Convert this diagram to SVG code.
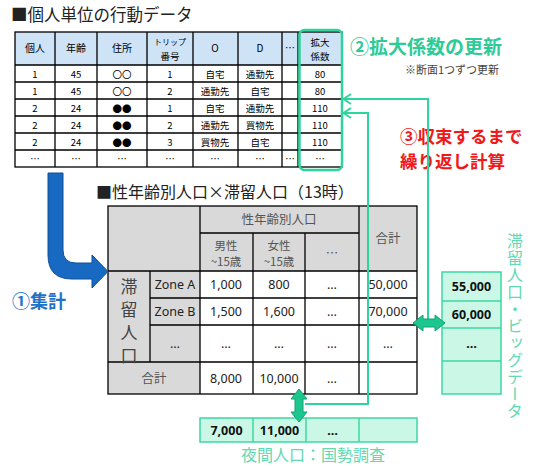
<svg xmlns="http://www.w3.org/2000/svg" width="536" height="466" viewBox="0 0 536 466">
<style>
  .t { font-family: "Noto Sans CJK JP", "Noto Sans", sans-serif; }
  .s { font-family: "Noto Sans CJK JP", sans-serif; font-size: 9.5px; fill: #000; text-anchor: middle; }
  .h { font-family: "Noto Sans CJK JP", sans-serif; font-size: 10px; fill: #000; text-anchor: middle; }
  .c { font-family: "Noto Sans", "Noto Sans CJK JP", sans-serif; font-size: 12.5px; fill: #222; text-anchor: middle; }
  .g { font-family: "Noto Sans CJK JP", "Noto Sans", sans-serif; font-size: 12.5px; fill: #555; text-anchor: middle; }
  .g2 { font-family: "Noto Sans CJK JP", "Noto Sans", sans-serif; font-size: 11.5px; fill: #555; text-anchor: middle; }
  .b { font-family: "Noto Sans", "Noto Sans CJK JP", sans-serif; font-size: 12.5px; font-weight: bold; fill: #111; text-anchor: middle; }
  .ln { stroke: #000; stroke-width: 1.3; fill: none; }
  .gl { stroke: #2fd49c; stroke-width: 2; fill: none; }
  .mint { fill: #cbf7e7; stroke: #3dd8a2; stroke-width: 1.5; }
  .dbl { fill: #1cc68e; stroke: #14a273; stroke-width: 1; }
</style>

<!-- titles -->
<text class="t" x="11" y="21" font-size="16.5" fill="#222">■個人単位の行動データ</text>
<text class="t" x="96" y="198" font-size="16" fill="#222">■性年齢別人口×滞留人口（13時）</text>

<!-- top table -->
<g id="trip-table">
  <rect x="15" y="32" width="327" height="33" fill="#cfe3f7"/>
  <rect x="15" y="65" width="327" height="102" fill="#fff"/>
  <g class="ln">
    <rect x="15" y="32" width="327" height="135"/>
    <path d="M55,32V167M97,32V167M147,32V167M193,32V167M238,32V167M282,32V167M298,32V167"/>
    <path d="M15,65H342M15,82H342M15,99H342M15,116H342M15,133H342M15,150H342"/>
  </g>
  <g class="h">
    <text x="35" y="52">個人</text>
    <text x="76" y="52">年齢</text>
    <text x="122" y="52">住所</text>
    <text x="170" y="45" font-size="8">トリップ</text>
    <text x="170" y="59.5" font-size="9.5">番号</text>
    <text x="215" y="52">O</text>
    <text x="260" y="52">D</text>
    <text x="290" y="52">…</text>
    <text x="320" y="45.5" font-size="9.5">拡大</text>
    <text x="320" y="59.5" font-size="9.5">係数</text>
  </g>
  <g class="s">
    <text x="35" y="77.5">1</text><text x="76" y="77.5">45</text><text x="122" y="77.5">〇〇</text><text x="170" y="77.5">1</text><text x="215" y="77.5">自宅</text><text x="260" y="77.5">通勤先</text><text x="320" y="77.5">80</text>
    <text x="35" y="94.5">1</text><text x="76" y="94.5">45</text><text x="122" y="94.5">〇〇</text><text x="170" y="94.5">2</text><text x="215" y="94.5">通勤先</text><text x="260" y="94.5">自宅</text><text x="320" y="94.5">80</text>
    <text x="35" y="111.5">2</text><text x="76" y="111.5">24</text><text x="122" y="111.5">●●</text><text x="170" y="111.5">1</text><text x="215" y="111.5">自宅</text><text x="260" y="111.5">通勤先</text><text x="320" y="111.5">110</text>
    <text x="35" y="128.5">2</text><text x="76" y="128.5">24</text><text x="122" y="128.5">●●</text><text x="170" y="128.5">2</text><text x="215" y="128.5">通勤先</text><text x="260" y="128.5">買物先</text><text x="320" y="128.5">110</text>
    <text x="35" y="145.5">2</text><text x="76" y="145.5">24</text><text x="122" y="145.5">●●</text><text x="170" y="145.5">3</text><text x="215" y="145.5">買物先</text><text x="260" y="145.5">自宅</text><text x="320" y="145.5">110</text>
    <text x="35" y="162">…</text><text x="76" y="162">…</text><text x="122" y="162">…</text><text x="170" y="162">…</text><text x="215" y="162">…</text><text x="260" y="162">…</text><text x="290" y="162">…</text><text x="320" y="162">…</text>
  </g>
  <rect x="299.5" y="30" width="42.5" height="140" rx="5" fill="none" stroke="#2fd49c" stroke-width="2.5"/>
</g>

<!-- labels -->
<g id="label-update">
  <text class="t" x="350" y="54" font-size="19" font-weight="bold" fill="#2ecb96">②拡大係数の更新</text>
  <text class="t" x="405" y="74" font-size="11" fill="#444">※断面1つずつ更新</text>
</g>
<g id="label-iterate">
  <text class="t" x="400" y="143" font-size="17.5" font-weight="bold" fill="#f01818">③収束するまで</text>
  <text class="t" x="400" y="168" font-size="17.5" font-weight="bold" fill="#f01818">繰り返し計算</text>
</g>
<g id="label-aggregate">
  <text class="t" x="12" y="308" font-size="18" font-weight="bold" fill="#1e73c8">①集計</text>
</g>

<!-- cross table -->
<g id="cross-table">
  <rect x="108" y="206" width="309" height="65" fill="#d9d9d9"/>
  <rect x="108" y="271" width="92" height="123" fill="#d9d9d9"/>
  <rect x="200" y="271" width="217" height="123" fill="#fff"/>
  <g class="ln">
    <rect x="108" y="206" width="309" height="188"/>
    <path d="M200,206V394M359,206V394M200,233H359M253,233V394M305,233V394M150,271V362"/>
    <path d="M108,271H417M150,298H417M150,325H417M108,362H417"/>
  </g>
  <g class="g">
    <text x="279" y="224">性年齢別人口</text>
    <text x="332" y="258">…</text>
    <text x="388" y="243">合計</text>
    <text x="154" y="383">合計</text>
  </g>
  <g class="g2">
    <text x="226" y="250">男性</text><text x="226" y="266">~15歳</text>
    <text x="279" y="250">女性</text><text x="279" y="266">~15歳</text>
  </g>
  <g class="t" font-size="17" fill="#444" text-anchor="middle">
    <text x="129" y="293">滞</text>
    <text x="129" y="316">留</text>
    <text x="129" y="339">人</text>
    <text x="129" y="362">口</text>
  </g>
  <g class="c">
    <text x="175" y="289">Zone A</text><text x="226" y="289">1,000</text><text x="279" y="289">800</text><text x="332" y="289">…</text><text x="388" y="289">50,000</text>
    <text x="175" y="316">Zone B</text><text x="226" y="316">1,500</text><text x="279" y="316">1,600</text><text x="332" y="316">…</text><text x="388" y="316">70,000</text>
    <text x="175" y="348">…</text><text x="226" y="348">…</text><text x="279" y="348">…</text><text x="332" y="348">…</text><text x="388" y="348">…</text>
    <text x="226" y="383">8,000</text><text x="279" y="383">10,000</text><text x="332" y="383">…</text>
  </g>
</g>

<!-- big blue arrow -->
<g id="aggregate-arrow">
  <path d="M48,173 L63,173 L63,250 Q63,263 76,263 L92,263 L92,255 L108,271.5 L92,288 L92,279 L72,279 Q48,279 48,255 Z" fill="#1769c2" stroke="#0f4f99" stroke-width="1"/>
</g>

<!-- stay population boxes -->
<g id="stay-data">
  <rect class="mint" x="442" y="272" width="59" height="122"/>
  <path d="M442,301H501M442,328H501M442,361H501" stroke="#3dd8a2" stroke-width="1.5"/>
  <text class="b" x="471.5" y="291">55,000</text>
  <text class="b" x="471.5" y="319">60,000</text>
  <text class="b" x="471.5" y="348">…</text>
  <text class="t" x="515" y="233" font-size="16" fill="#62d9b0" style="writing-mode: vertical-rl; letter-spacing: 1px;">滞留人口・ビッグデータ</text>
</g>

<!-- night population boxes -->
<g id="census-data">
  <rect class="mint" x="200" y="418" width="217" height="24"/>
  <path d="M253,418V442M306,418V442M359,418V442" stroke="#3dd8a2" stroke-width="1.5"/>
  <text class="b" x="226.5" y="435">7,000</text>
  <text class="b" x="279.5" y="435">11,000</text>
  <text class="b" x="332.5" y="435">…</text>
  <text class="t" x="313" y="461" font-size="16" fill="#62d9b0" text-anchor="middle">夜間人口：国勢調査</text>
</g>

<!-- connectors -->
<g id="connectors">
  <path class="gl" d="M428,319V99H344"/>
  <path class="gl" d="M305,404H368V113H344"/>
  <polyline class="gl" points="351,94 343.5,99 351,104"/>
  <polyline class="gl" points="351,108 343.5,113 351,118"/>
  <path class="dbl" d="M413,323 L423,315 L423,319 L435,319 L435,315 L445,323 L435,331 L435,327 L423,327 L423,331 Z"/>
  <path class="dbl" d="M299,389 L307,399 L303,399 L303,412 L307,412 L299,422 L291,412 L295,412 L295,399 L291,399 Z"/>
</g>
</svg>
